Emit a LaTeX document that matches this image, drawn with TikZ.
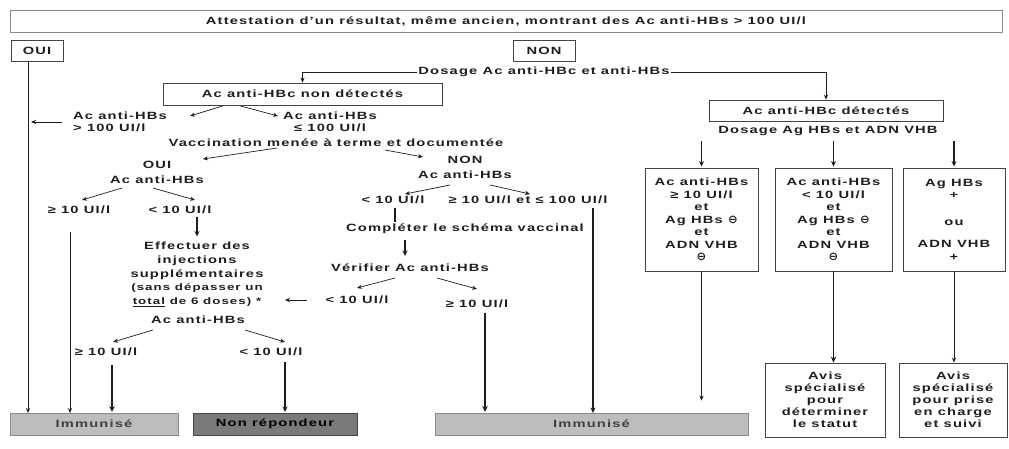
\documentclass[tikz,border=0pt]{standalone}
\usepackage{fontspec}
\setmainfont{Liberation Sans}[FakeStretch=1.4,LetterSpace=11]
\newfontfamily\symfont{DejaVu Sans}
\usetikzlibrary{arrows.meta,calc}
\definecolor{ink}{HTML}{1E1E1E}
\definecolor{bord}{HTML}{444444}
\definecolor{lbord}{HTML}{8A8A8A}
\definecolor{immfill}{HTML}{BDBDBD}
\definecolor{nrfill}{HTML}{7A7A7A}
\newcommand\om{{\symfont\fontsize{11.5}{12}\selectfont ⊖}}
\newcommand\fz[2]{\fontsize{#1}{#2}\selectfont}
\tikzset{
  lbl/.style={font=\bfseries\fz{10.5}{12.5}, text=ink, inner sep=1pt, align=center},
  bx/.style={lbl, draw=bord, line width=0.9pt},
  resbox/.style={lbl, draw=lbord, line width=0.8pt, minimum height=22pt, fill=immfill, text=ink!85},
  arr/.style={draw=ink, line width=0.7pt, -{Stealth[length=5pt,width=4.2pt]}},
  marr/.style={draw=ink, line width=1.3pt, -{Stealth[length=5.5pt,width=5pt]}},
  tarr/.style={draw=ink, line width=1.9pt, -{Stealth[length=6pt,width=5.5pt]}},
  bar/.style={draw=ink, line width=1.9pt}
}
\begin{document}
\begin{tikzpicture}[x=1pt,y=-1pt]
\useasboundingbox (0,0) rectangle (1009,449);

% top
\node[bx, draw=lbord, line width=0.8pt, minimum width=992pt, minimum height=22pt] (title) at (506,21)
  {Attestation d’un résultat, même ancien, montrant des Ac anti-HBs > 100 UI/l};
\node[bx, minimum width=52pt, minimum height=21pt] (oui) at (37,51) {OUI};
\node[bx, minimum width=62pt, minimum height=21pt] (non) at (544,51) {NON};
\node[lbl] (dos1) at (544,72) {Dosage Ac anti-HBc et anti-HBs};
\node[bx, line width=0.8pt, minimum width=279pt, minimum height=22pt] (nondet) at (302.5,94) {Ac anti-HBc non détectés};
\node[bx, line width=0.8pt, minimum width=234pt, minimum height=21pt] (det) at (826,110.5) {Ac anti-HBc détectés};
\node[lbl] (dos2) at (828,131) {Dosage Ag HBs et ADN VHB};

% left branch
\node[lbl, align=left, anchor=west, font=\bfseries\fz{10.5}{12}] (hi) at (72,122) {Ac anti-HBs\\> 100 UI/l};
\node[lbl, font=\bfseries\fz{10.5}{12}] (lo) at (330,122) {Ac anti-HBs\\≤ 100 UI/l};
\node[lbl] (vacc) at (336,143) {Vaccination menée à terme et documentée};
\node[lbl, font=\bfseries\fz{10.5}{15}] (oui2) at (157,172.5) {OUI\\Ac anti-HBs};
\node[lbl, font=\bfseries\fz{10.5}{15}] (non2) at (465,167.5) {NON\\Ac anti-HBs};
\node[lbl] (a1) at (79,210) {≥ 10 UI/l};
\node[lbl] (a2) at (180,210) {< 10 UI/l};
\node[lbl] (b1) at (393,200) {< 10 UI/l};
\node[lbl] (b2) at (528,200) {≥ 10 UI/l et ≤ 100 UI/l};
\node[lbl, font=\bfseries\fz{10.5}{13.7}] (inj) at (197,274.5)
  {Effectuer des\\injections\\supplémentaires\\{\fz{9.5}{13.7}(sans dépasser un}\\{\fz{9.5}{13.7}\underline{total} de 6 doses) *}};
\node[lbl] (compl) at (465,229) {Compléter le schéma vaccinal};
\node[lbl] (verif) at (410,268) {Vérifier Ac anti-HBs};
\node[lbl] (c1) at (357,300) {< 10 UI/l};
\node[lbl] (c2) at (477,304) {≥ 10 UI/l};
\node[lbl] (ac3) at (198,320) {Ac anti-HBs};
\node[lbl] (d1) at (106,352) {≥ 10 UI/l};
\node[lbl] (d2) at (271,352) {< 10 UI/l};

% right branch boxes
\node[bx, minimum width=113pt, minimum height=103pt] (box1) at (701.5,219.5)
  {Ac anti-HBs\\≥ 10 UI/l\\et\\Ag HBs \om\\et\\ADN VHB\\\om};
\node[bx, minimum width=117pt, minimum height=103pt] (box2) at (833.5,219.5)
  {Ac anti-HBs\\< 10 UI/l\\et\\Ag HBs \om\\et\\ADN VHB\\\om};
\node[bx, minimum width=102pt, minimum height=103pt] (box3) at (954,219.5)
  {Ag HBs\\+\\[14pt]ou\\[10pt]ADN VHB\\+};
\node[bx, minimum width=120pt, minimum height=74pt, font=\bfseries\fz{10.5}{12}] (avis2) at (825,400)
  {Avis\\spécialisé\\pour\\déterminer\\le statut};
\node[bx, minimum width=108pt, minimum height=74pt, font=\bfseries\fz{10.5}{12}] (avis3) at (953,400)
  {Avis\\spécialisé\\pour prise\\en charge\\et suivi};

% result boxes
\node[resbox, minimum width=168pt] (imm1) at (94,424) {Immunisé};
\node[resbox, minimum width=164pt, fill=nrfill, draw=bord, text=black] (nonrep) at (275,424) {Non répondeur};
\node[resbox, minimum width=313pt] (imm2) at (591.5,424) {Immunisé};

% connectors top
\draw[arr] (dos1.west) -| (nondet.north);
\draw[arr] (dos1.east) -| (det.north);
\draw[arr] ($(oui)+(-9,10.5)$) -- ($(imm1)+(-66,-11)$);
\draw[arr] ($(hi.west)+(-10,0)$) -- ($(oui)+(-6,71)$);
\draw[arr] ($(nondet)+(-80,12)$) -- ($(hi.west)+(118,-6)$);
\draw[arr] ($(nondet)+(-62,12)$) -- ($(lo)+(-52,-6)$);
\draw[arr] ($(vacc)+(-59,5)$) -- ($(oui2)+(46,-13.5)$);
\draw[arr] ($(vacc)+(49,7)$) -- ($(non2)+(-42,-10.5)$);
% OUI branch
\draw[arr] ($(oui2)+(-35,15.5)$) -- ($(a1)+(3,-10)$);
\draw[arr] ($(oui2)+(-4,15.5)$) -- ($(a2)+(15,-10)$);
\draw[marr] ($(a2)+(17,7)$) -- ($(inj)+(0,-38)$);
\draw[arr] ($(a1)+(-9,22)$) -- ($(imm1)+(-24,-11)$);
% NON branch
\draw[arr] ($(non2)+(-15,17.5)$) -- ($(b1)+(12,-6)$);
\draw[arr] ($(non2)+(25,17.5)$) -- ($(b2)+(2,-6)$);
\draw[bar] ($(b1)+(2,8)$) -- ($(compl)+(-70,-7)$);
\draw[marr] ($(compl)+(-60,11)$) -- ($(verif)+(-5,-12)$);
\draw[marr, line width=1.1pt] ($(b2)+(65,8)$) -- ($(imm2)+(1.5,-11)$);
\draw[arr] ($(verif)+(-15,10)$) -- ($(c1)+(0,-12)$);
\draw[arr] ($(verif)+(27,10)$) -- ($(c2)+(0,-15)$);
\draw[arr] ($(c1)+(-50,0)$) -- ($(inj)+(88,25.5)$);
\draw[tarr] ($(c2)+(8,9)$) -- ($(imm2)+(-106.5,-12)$);
% after injections
\draw[arr] ($(ac3)+(-45,10)$) -- ($(d1)+(7,-10)$);
\draw[arr] ($(ac3)+(47,10)$) -- ($(d2)+(14,-10)$);
\draw[tarr] ($(d1)+(6,13)$) -- ($(imm1)+(18,-12)$);
\draw[marr, line width=1.1pt] ($(d2)+(14,10)$) -- ($(nonrep)+(10,-12)$);
% right branch
\draw[marr] ($(dos2.south -| box1.north)+(0,4)$) -- ($(box1.north)+(0,-1)$);
\draw[marr] ($(dos2.south -| box2.north)+(0,4)$) -- ($(box2.north)+(0,-1)$);
\draw[marr] ($(dos2.south -| box3.north)+(0,4)$) -- ($(box3.north)+(0,-1)$);
\draw[arr, line width=1pt] (box1.south) -- ($(imm2.north -| box1.south)+(0,-12)$);
\draw[tarr] (box2.south) -- (box2.south |- avis2.north);
\draw[arr, line width=1pt] (box3.south) -- (box3.south |- avis3.north);
\end{tikzpicture}
\end{document}
